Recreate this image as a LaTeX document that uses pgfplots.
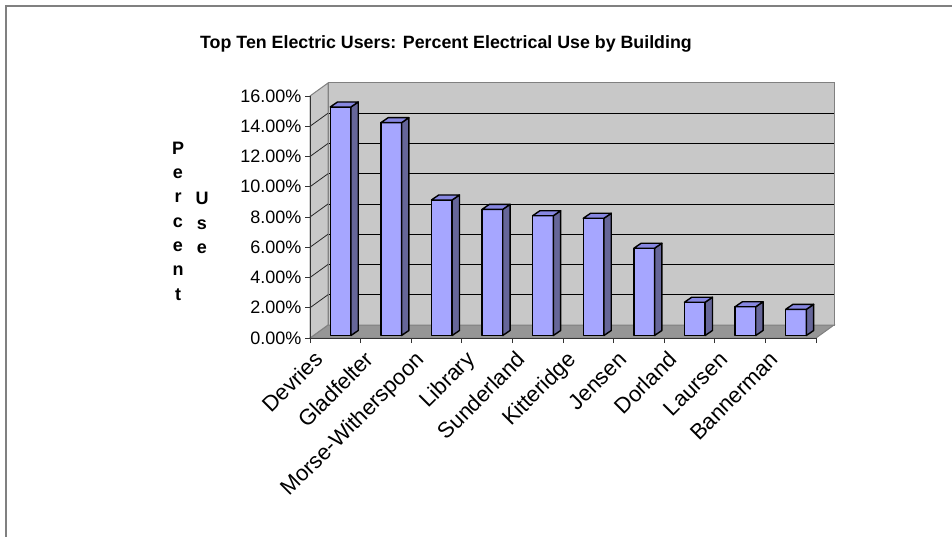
\documentclass[border=0pt]{standalone}
\usepackage{fontspec}
\setmainfont{Liberation Sans}
\usepackage{pgfplots}
\usepackage{pgfplotstable}
\pgfplotsset{compat=1.18}
\definecolor{wallgray}{RGB}{200,200,200}
\definecolor{floorgray}{RGB}{150,150,150}
\definecolor{edgegray}{RGB}{128,128,128}
\definecolor{barfront}{RGB}{166,166,255}
\definecolor{barside}{RGB}{102,102,153}
\definecolor{bartop}{RGB}{135,135,225}
\pgfdeclareplotmark{blank}{}
\pgfplotstableread{
x val
1 15.11
2 14.07
3 8.96
4 8.34
5 7.92
6 7.75
7 5.77
8 2.20
9 1.90
10 1.73
}\datatable
\begin{document}
\begin{tikzpicture}[x=1pt,y=1pt]
\useasboundingbox (0,0) rectangle (952,536);
\draw[edgegray, line width=2pt] (6,-20) -- (6,530) -- (970,530);
\node[font=\bfseries\fontsize{17.8}{20}\selectfont] at (446,492) {Top Ten Electric Users: Percent Electrical Use by Building};
\node[font=\bfseries\fontsize{18}{24.3}\selectfont, align=center, inner sep=0pt] at (178,315) {P\\e\\r\\c\\e\\n\\t};
\node[font=\bfseries\fontsize{18}{24.3}\selectfont, align=center, inner sep=0pt] at (202,313) {U\\s\\e};
% back wall, floor, left wall
\begin{axis}[
  at={(328pt,211pt)}, anchor=south west, scale only axis,
  width=506pt, height=242pt,
  xmin=0.5, xmax=10.5, ymin=0, ymax=16, clip=false,
  axis background/.style={fill=wallgray},
  axis line style={draw=edgegray, line width=1pt},
  ytick={2,4,...,14}, yticklabels={}, xtick=\empty,
  major tick length=0pt,
  ymajorgrids, grid style={black, line width=0.9pt},
]
\filldraw[fill=floorgray, draw=edgegray, line width=1pt] (axis cs:0.5,0) -- (axis cs:10.5,0) -- ++(-18pt,-13pt) -- ++(-506pt,0pt) -- cycle;
\filldraw[fill=wallgray, draw=edgegray, line width=1pt] (axis cs:0.5,0) -- (axis cs:0.5,16) -- ++(-18pt,-13pt) -- ++(0pt,-242pt) -- cycle;
\pgfplotsinvokeforeach{2,4,6,8,10,12,14}{
  \draw[black!85, line width=0.8pt] (axis cs:0.5,#1) -- ++(-18pt,-13pt);
}
\end{axis}
% front axis with bars
\begin{axis}[
  at={(310pt,198pt)}, anchor=south west, scale only axis,
  width=506pt, height=242pt,
  xmin=0.5, xmax=10.5, ymin=0, ymax=16, clip=false,
  axis x line*=bottom, axis y line*=left,
  axis line style={black!80, line width=0.9pt},
  ytick={0,2,...,16},
  yticklabels={0.00\%,2.00\%,4.00\%,6.00\%,8.00\%,10.00\%,12.00\%,14.00\%,16.00\%},
  xtick={1,...,10},
  xticklabels={Devries,Gladfelter,Morse-Witherspoon,Library,Sunderland,Kitteridge,Jensen,Dorland,Laursen,Bannerman},
  minor xtick={0.5,1.5,...,10.5},
  tick align=outside,
  major x tick style={draw=none},
  major tick length=5pt, minor tick length=5pt,
  tick style={black!80, line width=0.9pt},
  tick label style={font=\fontsize{18}{20}\selectfont},
  x tick label style={font=\fontsize{22}{24}\selectfont, xshift=-11pt, yshift=-18pt, rotate=45, anchor=base east, inner sep=0pt},
]
\addplot[only marks, mark=blank, scatter,
  visualization depends on={rawy \as \rawy},
  scatter/@pre marker code/.code={%
    \pgfmathsetmacro\bb{2.5-\rawy*15.125}%
    \filldraw[fill=barfront, draw=black, line width=1.4pt, line join=round] (-5.05pt,\bb pt) rectangle (15.65pt,2.5pt);
    \filldraw[fill=barside, draw=black, line width=1.4pt, line join=round] (15.65pt,\bb pt) -- ++(7.3pt,5pt) -- (22.95pt,7.5pt) -- (15.65pt,2.5pt) -- cycle;
    \filldraw[fill=bartop, draw=black, line width=1.4pt, line join=round] (-5.05pt,2.5pt) -- (15.65pt,2.5pt) -- (22.95pt,7.5pt) -- (2.25pt,7.5pt) -- cycle;
  },
  scatter/@post marker code/.code={},
] table[x=x, y=val] {\datatable};
\end{axis}
\end{tikzpicture}
\end{document}
